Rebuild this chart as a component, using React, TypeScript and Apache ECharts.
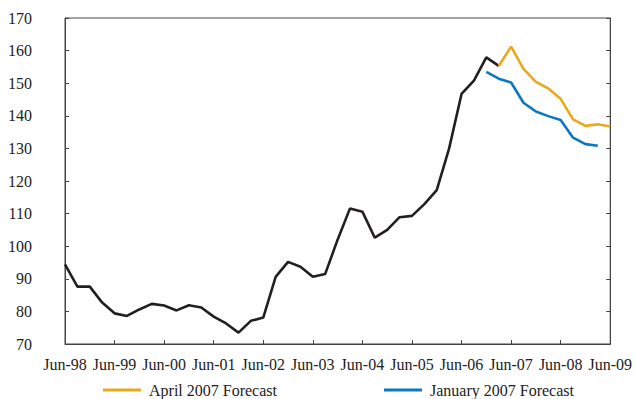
import React, { useEffect, useRef } from "react";
import * as echarts from "echarts";

const quarters: string[] = [
  "Jun-98", "Sep-98", "Dec-98", "Mar-99",
  "Jun-99", "Sep-99", "Dec-99", "Mar-00",
  "Jun-00", "Sep-00", "Dec-00", "Mar-01",
  "Jun-01", "Sep-01", "Dec-01", "Mar-02",
  "Jun-02", "Sep-02", "Dec-02", "Mar-03",
  "Jun-03", "Sep-03", "Dec-03", "Mar-04",
  "Jun-04", "Sep-04", "Dec-04", "Mar-05",
  "Jun-05", "Sep-05", "Dec-05", "Mar-06",
  "Jun-06", "Sep-06", "Dec-06", "Mar-07",
  "Jun-07", "Sep-07", "Dec-07", "Mar-08",
  "Jun-08", "Sep-08", "Dec-08", "Mar-09",
  "Jun-09",
];

// Actual (Jun-98 .. Mar-07)
const actual: number[] = [
  94.4, 87.6, 87.6, 82.7,
  79.4, 78.6, 80.6, 82.3,
  81.8, 80.3, 81.9, 81.2,
  78.4, 76.3, 73.5, 77.1,
  78.1, 90.6, 95.2, 93.7,
  90.6, 91.5, 102.0, 111.6,
  110.6, 102.6, 105.0, 108.9,
  109.3, 112.9, 117.2, 130.0,
  146.7, 150.8, 157.9, 155.3,
];

// April 2007 Forecast (Mar-07 .. Jun-09)
const aprilForecast: number[] = [155.3, 161.2, 154.4, 150.4, 148.4, 145.2, 138.9, 136.9, 137.4, 136.7];
const aprilStart = "Mar-07";

// January 2007 Forecast (Dec-06 .. Mar-09)
const janForecast: number[] = [153.5, 151.4, 150.2, 144.0, 141.3, 139.9, 138.7, 133.3, 131.3, 130.8];
const janStart = "Dec-06";

const FONT = "'Liberation Serif', 'Times New Roman', serif";

function place(values: number[], startLabel: string): (number | null)[] {
  const start = quarters.indexOf(startLabel);
  return quarters.map((_, i) => {
    const k = i - start;
    return k >= 0 && k < values.length ? values[k] : null;
  });
}

export default function App() {
  const ref = useRef<HTMLDivElement>(null);
  useEffect(() => {
    if (!ref.current) return;
    const chart = echarts.init(ref.current, undefined, { renderer: "svg" });
    const axisColor = "#444";
    chart.setOption({
      animation: false,
      backgroundColor: "#fff",
      textStyle: { fontFamily: FONT },
      grid: {
        left: 65,
        right: 22,
        top: 18,
        bottom: 55,
        show: true,
        borderColor: axisColor,
        borderWidth: 1,
      },
      legend: {
        data: ["April 2007 Forecast", "January 2007 Forecast"],
        left: 103,
        top: 382,
        padding: 0,
        itemWidth: 38,
        itemHeight: 3,
        itemGap: 107,
        icon: "rect",
        textStyle: {
          fontFamily: FONT,
          fontSize: 16,
          color: "#222",
          padding: [0, 0, 0, 3],
        },
      },
      xAxis: {
        type: "category",
        data: quarters,
        boundaryGap: false,
        axisLine: { show: true, lineStyle: { color: axisColor, width: 1 } },
        axisTick: { show: true, inside: true, length: 4, interval: 3, lineStyle: { color: axisColor } },
        axisLabel: { interval: 3, fontFamily: FONT, fontSize: 16, color: "#222", margin: 12 },
        splitLine: { show: false },
      },
      yAxis: [
        {
          type: "value",
          min: 70,
          max: 170,
          interval: 10,
          axisLine: { show: true, lineStyle: { color: axisColor, width: 1 } },
          axisTick: { show: true, inside: true, length: 4, lineStyle: { color: axisColor } },
          axisLabel: { fontFamily: FONT, fontSize: 16, color: "#222", margin: 33 },
          splitLine: { show: false },
        },
        {
          type: "value",
          position: "right",
          min: 70,
          max: 170,
          interval: 10,
          axisLine: { show: true, lineStyle: { color: axisColor, width: 1 } },
          axisTick: { show: true, inside: true, length: 4, lineStyle: { color: axisColor } },
          axisLabel: { show: false },
          splitLine: { show: false },
        },
      ],
      series: [
        {
          name: "Actual",
          type: "line",
          data: place(actual, quarters[0]),
          showSymbol: false,
          symbol: "none",
          lineStyle: { color: "#231f20", width: 2.6 },
          itemStyle: { color: "#231f20" },
        },
        {
          name: "January 2007 Forecast",
          type: "line",
          data: place(janForecast, janStart),
          showSymbol: false,
          symbol: "none",
          lineStyle: { color: "#0a78c2", width: 2.6 },
          itemStyle: { color: "#0a78c2" },
        },
        {
          name: "April 2007 Forecast",
          type: "line",
          data: place(aprilForecast, aprilStart),
          showSymbol: false,
          symbol: "none",
          lineStyle: { color: "#e9a91b", width: 2.6 },
          itemStyle: { color: "#e9a91b" },
        },
      ],
    });
    return () => chart.dispose();
  }, []);
  return (
    <div
      ref={ref}
      style={{ position: "fixed", left: 0, top: 0, width: 635, height: 399, background: "#fff" }}
    />
  );
}
